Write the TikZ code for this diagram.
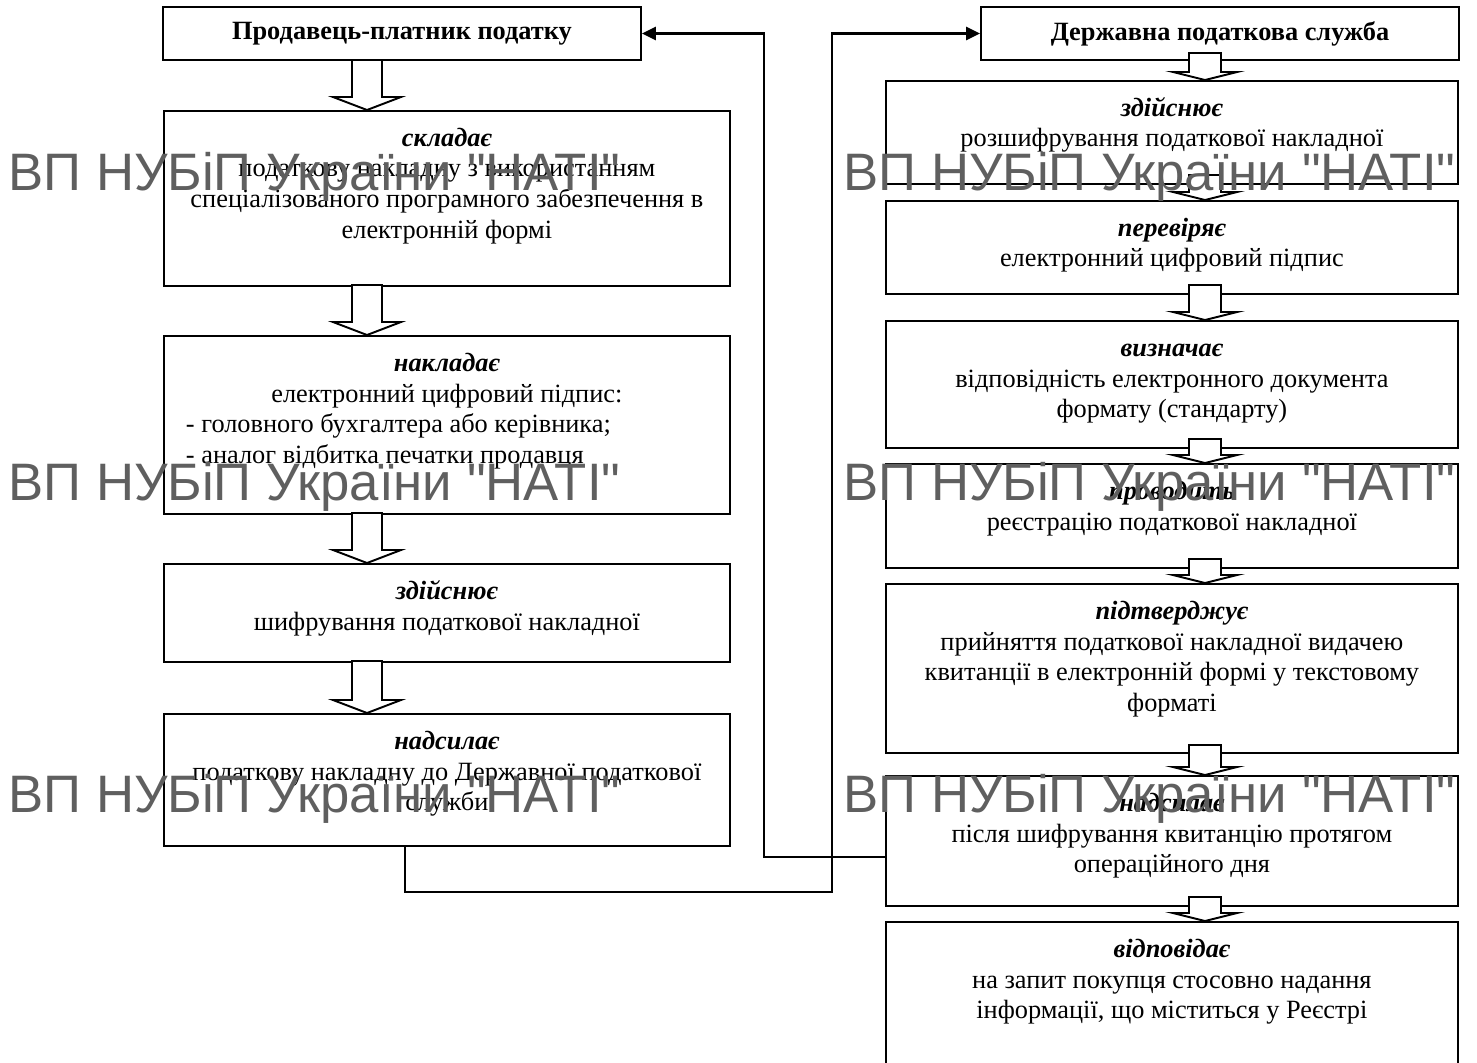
\documentclass[tikz,border=0pt]{standalone}
\usepackage{fontspec}
\setmainfont{Liberation Serif}
\newfontfamily\markfont{Liberation Sans}
\usetikzlibrary{arrows.meta}
\definecolor{markgray}{RGB}{95,95,95}
\newcommand{\boxtext}[3]{\parbox[c][#1][t]{#2}{\fontsize{15}{17.4}\selectfont\centering\vspace*{8pt}\strut #3}}

\begin{document}
\begin{tikzpicture}
[x=0.02cm,y=-0.02cm,
 box/.style={draw,rectangle,line width=1.1pt,inner sep=0pt,anchor=north west},
 title/.style={draw,rectangle,line width=1.1pt,minimum width=9.56cm,minimum height=1.06cm,font=\fontsize{15}{17}\selectfont\bfseries},
 conn/.style={line width=1.5pt,-{Triangle[length=0.28cm,width=0.26cm]}},
 hollow/.style={draw,fill=white,line width=1.1pt},
 wmark/.style={anchor=base west,text=markgray,inner sep=0pt,font=\markfont\fontsize{30}{34}\selectfont},
 pics/bigarrow/.style={code={\path[hollow] (0,0) -- (-34,-13) -- (-15,-13) -- (-15,-#1) -- (15,-#1) -- (15,-13) -- (34,-13) -- cycle;}},
 pics/smallarrow/.style={code={\path[hollow] (0,0) -- (-32,-8) -- (-16,-8) -- (-16,-#1) -- (16,-#1) -- (16,-8) -- (32,-8) -- cycle;}}]
\clip (0,0) rectangle (1477,1062);
% left column: seller
\node[title] (Seller) at (402,33.5) {Продавець-платник податку};
\node[box] (Compose) at (163,110) {\boxtext{3.5cm}{11.32cm}{\textbf{\textit{складає}}\\ податкову накладну з використанням\\ спеціалізованого програмного забезпечення в\\ електронній формі}};
\node[box] (Sign) at (163,335) {\boxtext{3.56cm}{11.32cm}{\textbf{\textit{накладає}}\\ електронний цифровий підпис:\par\raggedright\hspace*{0.44cm}- головного бухгалтера або керівника;\\ \hspace*{0.44cm}- аналог відбитка печатки продавця}};
\node[box] (Encrypt) at (163,563) {\boxtext{1.96cm}{11.32cm}{\textbf{\textit{здійснює}}\\ шифрування податкової накладної}};
\node[box] (Send) at (163,713) {\boxtext{2.64cm}{11.32cm}{\textbf{\textit{надсилає}}\\ податкову накладну до Державної податкової\\ служби}};
% right column: tax service
\node[title] (TaxService) at (1220,33.5) {Державна податкова служба};
\node[box] (Decrypt) at (885,80) {\boxtext{2.06cm}{11.44cm}{\textbf{\textit{здійснює}}\\ розшифрування податкової накладної}};
\node[box] (Verify) at (885,200) {\boxtext{1.86cm}{11.44cm}{\textbf{\textit{перевіряє}}\\ електронний цифровий підпис}};
\node[box] (Define) at (885,320) {\boxtext{2.54cm}{11.44cm}{\textbf{\textit{визначає}}\\ відповідність електронного документа\\ формату (стандарту)}};
\node[box] (Register) at (885,463) {\boxtext{2.08cm}{11.44cm}{\textbf{\textit{проводить}}\\ реєстрацію податкової накладної}};
\node[box] (Confirm) at (885,583) {\boxtext{3.38cm}{11.44cm}{\textbf{\textit{підтверджує}}\\ прийняття податкової накладної видачею\\ квитанції в електронній формі у текстовому\\ форматі}};
\node[box] (SendReceipt) at (885,775) {\boxtext{2.6cm}{11.44cm}{\textbf{\textit{надсилає}}\\ після шифрування квитанцію протягом\\ операційного дня}};
\node[box] (Answer) at (885,921) {\boxtext{3.2cm}{11.44cm}{\textbf{\textit{відповідає}}\\ на запит покупця стосовно надання\\ інформації, що міститься у Реєстрі}};
% hollow arrows
\pic at (367,0 |- Compose.north) {bigarrow=50};
\pic at (367,0 |- Sign.north) {bigarrow=50};
\pic at (367,0 |- Encrypt.north) {bigarrow=50};
\pic at (367,0 |- Send.north) {bigarrow=52};
\pic at (1205,0 |- Decrypt.north) {smallarrow=27};
\pic at (1205,0 |- Verify.north) {smallarrow=25};
\pic at (1205,0 |- Define.north) {smallarrow=35};
\pic at (1205,0 |- Register.north) {smallarrow=24};
\pic at (1205,0 |- Confirm.north) {smallarrow=24};
\pic at (1205,0 |- SendReceipt.north) {smallarrow=30};
\pic at (1205,0 |- Answer.north) {smallarrow=24};
% connectors
\draw[conn] ([xshift=-0.84cm]Send.south) -- ++(0,45) -| (832,0 |- TaxService.west) -- (TaxService.west);
\draw[conn] ([yshift=-0.32cm]SendReceipt.west) -| (764,0 |- Seller.east) -- (Seller.east);
% watermark
\node[wmark] (MarkA) at (8,190) {ВП НУБіП України "НАТІ"};
\node[wmark] (MarkB) at (843,190) {ВП НУБіП України "НАТІ"};
\node[wmark] (MarkC) at (8,500) {ВП НУБіП України "НАТІ"};
\node[wmark] (MarkD) at (843,500) {ВП НУБіП України "НАТІ"};
\node[wmark] (MarkE) at (8,812) {ВП НУБіП України "НАТІ"};
\node[wmark] (MarkF) at (843,812) {ВП НУБіП України "НАТІ"};
\end{tikzpicture}
\end{document}
